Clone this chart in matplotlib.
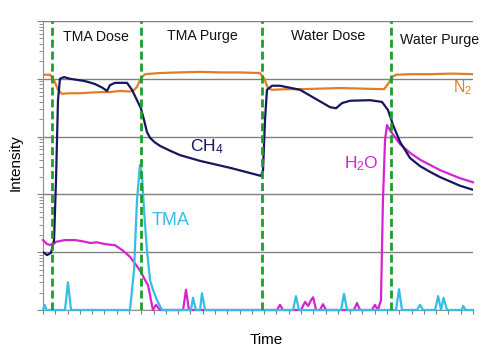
import numpy as np
import matplotlib
matplotlib.use("Agg")
import matplotlib.pyplot as plt

plt.rcParams['font.family'] = ['Liberation Sans', 'DejaVu Sans']
plt.rcParams['mathtext.fontset'] = 'custom'
plt.rcParams['mathtext.rm'] = 'Liberation Sans'
plt.rcParams['mathtext.it'] = 'Liberation Sans:italic'

# ---- data (time in arbitrary units, intensity as log10 exponent) ----
n2_t = [0, 0.57, 0.9, 1.22, 1.55, 2.2, 3.01, 3.8, 4.64, 5.4, 6.27, 7.0, 7.33, 7.65, 7.97, 8.3,
        9.52, 11.0, 12.78, 14.5, 16.03, 17.66, 17.99, 18.31, 18.64, 19.8, 20.92, 22.5, 24.17,
        26.0, 27.76, 28.08, 28.41, 28.73, 30.0, 31.5, 33.2, 35]
n2_v = [4.07, 4.07, 3.98, 3.81, 3.74, 3.75, 3.75, 3.76, 3.77, 3.77, 3.79, 3.78, 3.79, 3.86, 4.01, 4.08,
        4.10, 4.11, 4.12, 4.11, 4.11, 4.10, 4.01, 3.84, 3.81, 3.82, 3.82, 3.83, 3.84,
        3.83, 3.82, 3.91, 4.03, 4.07, 4.08, 4.08, 4.09, 4.08]

ch4_t = [0, 0.33, 0.65, 0.9, 1.06, 1.22, 1.38, 1.71, 2.2, 3.42, 4.23, 4.88, 5.21, 5.45, 5.86, 6.84,
         7.24, 7.65, 7.97, 8.22, 8.46, 8.71, 9.1, 9.52, 10.3, 11.15, 12.78, 15.22, 16.85, 17.74, 17.91,
         18.07, 18.23, 18.64, 19.29, 20.92, 22.38, 23.36, 23.85, 24.34, 24.99, 26.62, 27.59, 28.08,
         28.49, 29.06, 29.87, 30.69, 31.5, 32.31, 33.94, 35]
ch4_v = [1.00, 0.95, 0.99, 1.21, 2.25, 3.63, 4.00, 4.03, 4.00, 3.96, 3.91, 3.84, 3.79, 3.89, 3.93, 3.93,
         3.81, 3.63, 3.49, 3.29, 3.08, 2.98, 2.90, 2.84, 2.76, 2.68, 2.58, 2.46, 2.37, 2.32, 2.42,
         3.29, 3.81, 3.88, 3.88, 3.81, 3.63, 3.51, 3.49, 3.58, 3.62, 3.63, 3.60, 3.46,
         3.20, 2.91, 2.63, 2.49, 2.39, 2.30, 2.15, 2.08]

h2o_t = [0, 0.33, 0.73, 1.06, 1.79, 2.6, 3.2, 3.83, 4.4, 5.05, 5.86, 6.43, 7.08, 7.57, 7.97, 8.3,
         8.55, 8.79, 8.95, 9.2, 9.52, 11.4, 11.64, 11.88, 19.05, 19.29, 19.53, 21.0, 21.33,
         21.58, 21.82, 21.99, 22.23, 22.54, 22.79, 23.03, 25.3, 25.56, 25.8, 26.77, 27.02,
         27.26, 27.51, 27.67, 27.84, 28.0, 28.24, 28.65, 29.06, 29.87, 30.69, 32.31, 33.94, 35]
h2o_v = [1.21, 1.14, 1.12, 1.18, 1.21, 1.21, 1.19, 1.16, 1.17, 1.14, 1.12, 1.04, 0.92, 0.78, 0.66, 0.52,
         0.43, 0.17, 0.0, 0.09, 0.0, 0.0, 0.35, 0.0, 0.0, 0.09, 0.0, 0.0, 0.14,
         0.07, 0.17, 0.22, 0.0, 0.0, 0.10, 0.0, 0.0, 0.12, 0.0, 0.0, 0.09,
         0.0, 0.17, 1.90, 2.94, 3.20, 3.11, 2.99, 2.87, 2.72, 2.60, 2.42, 2.28, 2.21]

tma_t = [0, 0.12, 0.3, 1.79, 2.03, 2.28, 7.08, 7.41, 7.65, 7.89, 8.06, 8.22, 8.46, 8.71, 8.95,
         9.28, 9.68, 12.04, 12.21, 12.45, 12.78, 12.94, 13.19, 20.35, 20.59, 20.84, 24.26,
         24.5, 24.75, 28.73, 28.98, 29.22, 30.45, 30.69, 30.94, 31.92, 32.16, 32.4, 32.6,
         32.89, 33.1, 34.09, 34.2, 34.4, 35]
tma_v = [0.0, 0.09, 0.0, 0.0, 0.48, 0.0, 0.0, 0.69, 1.90, 2.51, 2.34, 1.73, 1.04, 0.52, 0.35,
         0.17, 0.0, 0.0, 0.21, 0.0, 0.0, 0.29, 0.0, 0.0, 0.24, 0.0, 0.0,
         0.28, 0.0, 0.0, 0.36, 0.0, 0.0, 0.09, 0.0, 0.0, 0.24, 0.0, 0.21,
         0.0, 0.0, 0.0, 0.07, 0.0, 0.0]

step_t = [0.73, 7.97, 17.82, 28.32]
step_labels = ["TMA Dose", "TMA Purge", "Water Dose", "Water Purge"]
step_label_t = [4.31, 12.94, 23.2, 32.3]
step_label_v = [4.72, 4.74, 4.74, 4.67]

NAVY = "#15175C"
ORANGE = "#E07E28"
MAGENTA = "#D523D2"
CYAN = "#35BDE3"
GREEN = "#1E9E2A"

fig = plt.figure(figsize=(4.99, 3.54), dpi=100)
ax = fig.add_axes([43/499, 1-310/354, 430/499, 289/354])

def p(v):
    return 10.0 ** np.asarray(v)

ax.plot(h2o_t, p(h2o_v), color=MAGENTA, lw=1.6, clip_on=False, zorder=3)
ax.plot(tma_t, p(tma_v), color=CYAN, lw=1.6, clip_on=False, zorder=4)
ax.plot(n2_t, p(n2_v), color=ORANGE, lw=1.6, zorder=3)
ax.plot(ch4_t, p(ch4_v), color=NAVY, lw=1.6, zorder=3)

for t in step_t:
    ax.axvline(t, color=GREEN, lw=2.0, ls=(0, (2.9, 1.4)), zorder=5)

ax.set_yscale('log')
ax.set_ylim(1, 1e5)
ax.set_xlim(0, 35)
ax.set_xticks(np.arange(0, 36, 1))
ax.set_xticklabels([])
ax.yaxis.set_major_locator(matplotlib.ticker.LogLocator(base=10, numticks=10))
ax.yaxis.set_minor_locator(matplotlib.ticker.LogLocator(base=10, subs=np.arange(2, 10), numticks=10))
ax.yaxis.set_minor_formatter(matplotlib.ticker.NullFormatter())
ax.set_yticklabels([])
ax.tick_params(axis='x', direction='out', length=3, width=0.8, color='#808080')
ax.tick_params(axis='y', which='major', direction='out', length=4, width=0.8, color='#808080')
ax.tick_params(axis='y', which='minor', direction='out', length=3, width=0.6, color='#808080')
ax.grid(axis='y', which='major', color='#808080', lw=1.0)
for s in ['top', 'right']:
    ax.spines[s].set_visible(False)
for s in ['left', 'bottom']:
    ax.spines[s].set_color('#909090')
    ax.spines[s].set_linewidth(0.8)

for lab, t, v in zip(step_labels, step_label_t, step_label_v):
    ax.text(t, 10 ** v, lab, ha='center', va='center', fontsize=10.2, color='#111111')

ax.text(34.2, 10 ** 3.84, "N$_2$", ha='center', va='center', fontsize=11.5, color=ORANGE)
ax.text(13.35, 10 ** 2.82, "CH$_4$", ha='center', va='center', fontsize=12.5, color=NAVY)
ax.text(25.9, 10 ** 2.53, "H$_2$O", ha='center', va='center', fontsize=12.5, color=MAGENTA)
ax.text(10.4, 10 ** 1.54, "TMA", ha='center', va='center', fontsize=13, color=CYAN)

fig.text(16/499, 1-163/354, "Intensity", rotation=90, ha='center', va='center', fontsize=11)
fig.text(266/499, 1-340/354, "Time", ha='center', va='center', fontsize=11)

fig.savefig("out.png", dpi=100)
